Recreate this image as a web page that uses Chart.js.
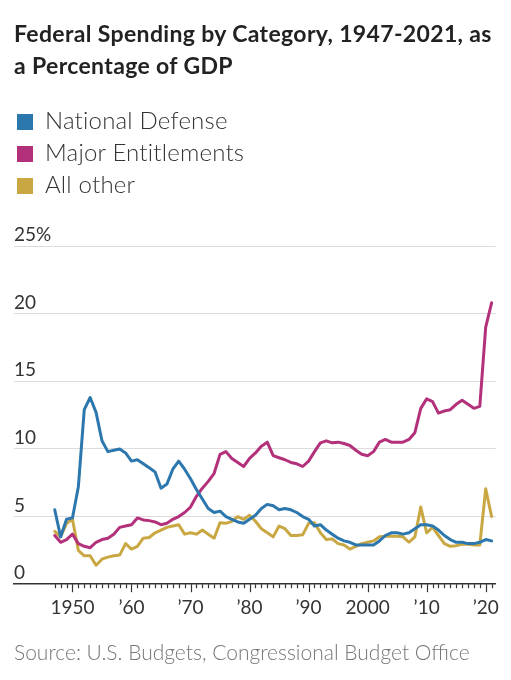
<!DOCTYPE html>
<html>
<head>
<meta charset="utf-8">
<script src="https://cdn.jsdelivr.net/npm/chart.js@4.4.1/dist/chart.umd.min.js"></script>
<style>
  body { margin: 0; background: #fff; width: 511px; height: 680px; overflow: hidden; font-family: Lato, "Noto Sans", sans-serif; }
  #wrap { position: relative; width: 511px; height: 680px; }
  #chart { position: absolute; left: 0; top: 0; }
  #title { position: absolute; left: 14px; top: 17px; font-size: 23px; letter-spacing: 0.35px; font-weight: 700; line-height: 32px; color: #222; }
  #legend { position: absolute; left: 17px; top: 104px; }
  .item { height: 32px; line-height: 32px; font-size: 24px; letter-spacing: 0.2px; font-weight: 300; color: #333; white-space: nowrap; }
  .sw { display: inline-block; width: 16px; height: 16px; margin-right: 12px; vertical-align: -1px; }
  #source { position: absolute; left: 14px; top: 640px; font-size: 21px; font-weight: 300; color: #777; line-height: 24px; }
</style>
</head>
<body>
<div id="wrap">
  <canvas id="chart" width="511" height="680"></canvas>
  <div id="title">Federal Spending by Category, 1947-2021, as<br>a Percentage of GDP</div>
  <div id="legend"></div>
  <div id="source">Source: U.S. Budgets, Congressional Budget Office</div>
</div>
<script>
// fiscal years
const years = [1947, 1948, 1949, 1950, 1951, 1952, 1953, 1954, 1955, 1956,
  1957, 1958, 1959, 1960, 1961, 1962, 1963, 1964, 1965, 1966,
  1967, 1968, 1969, 1970, 1971, 1972, 1973, 1974, 1975, 1976,
  1977, 1978, 1979, 1980, 1981, 1982, 1983, 1984, 1985, 1986,
  1987, 1988, 1989, 1990, 1991, 1992, 1993, 1994, 1995, 1996,
  1997, 1998, 1999, 2000, 2001, 2002, 2003, 2004, 2005, 2006,
  2007, 2008, 2009, 2010, 2011, 2012, 2013, 2014, 2015, 2016,
  2017, 2018, 2019, 2020, 2021];

// % of GDP
const defense = [5.5, 3.5, 4.8, 4.9, 7.2, 12.9, 13.8, 12.7, 10.6, 9.8,
  9.9, 10.0, 9.7, 9.1, 9.2, 8.9, 8.6, 8.3, 7.1, 7.4,
  8.5, 9.1, 8.5, 7.8, 7.0, 6.3, 5.6, 5.3, 5.4, 5.0,
  4.8, 4.6, 4.5, 4.8, 5.1, 5.6, 5.9, 5.8, 5.5, 5.6,
  5.5, 5.3, 5.0, 4.8, 4.3, 4.4, 4.0, 3.7, 3.4, 3.2,
  3.1, 2.9, 2.9, 2.9, 2.9, 3.2, 3.6, 3.8, 3.8, 3.7,
  3.8, 4.1, 4.4, 4.4, 4.3, 4.0, 3.6, 3.3, 3.1, 3.1,
  3.0, 3.0, 3.1, 3.3, 3.2];
const entitlements = [3.6, 3.1, 3.3, 3.7, 3.0, 2.8, 2.7, 3.1, 3.3, 3.4,
  3.7, 4.2, 4.3, 4.4, 4.9, 4.75, 4.7, 4.6, 4.4, 4.5,
  4.8, 5.0, 5.3, 5.7, 6.5, 7.1, 7.6, 8.2, 9.6, 9.8,
  9.3, 9.0, 8.7, 9.3, 9.7, 10.2, 10.5, 9.5, 9.35, 9.2,
  9.0, 8.9, 8.7, 9.1, 9.8, 10.45, 10.6, 10.45, 10.5, 10.4,
  10.25, 9.9, 9.6, 9.5, 9.8, 10.5, 10.7, 10.5, 10.5, 10.5,
  10.7, 11.2, 13.0, 13.7, 13.5, 12.65, 12.8, 12.9, 13.3, 13.6,
  13.3, 13.0, 13.15, 19.0, 20.8];
const allOther = [3.9, 3.5, 4.5, 4.8, 2.5, 2.1, 2.1, 1.4, 1.85, 2.0,
  2.1, 2.15, 3.0, 2.6, 2.8, 3.4, 3.45, 3.8, 4.0, 4.2,
  4.3, 4.4, 3.7, 3.8, 3.7, 4.0, 3.7, 3.4, 4.55, 4.5,
  4.65, 5.0, 4.8, 5.1, 4.65, 4.1, 3.8, 3.5, 4.3, 4.1,
  3.6, 3.6, 3.65, 4.5, 4.55, 3.8, 3.3, 3.35, 3.0, 2.9,
  2.6, 2.8, 3.0, 3.1, 3.2, 3.5, 3.55, 3.55, 3.55, 3.5,
  3.1, 3.5, 5.7, 3.8, 4.2, 3.6, 3.0, 2.8, 2.85, 2.95,
  2.95, 2.9, 2.9, 7.05, 5.0];

const seriesNames = ['National Defense', 'Major Entitlements', 'All other'];
const seriesColors = ['#2c77ad', '#b3317b', '#c9a843'];

const xTickYears = [1950, 1960, 1970, 1980, 1990, 2000, 2010, 2020];
const xTickLabels = ['1950', '\u201960', '\u201970', '\u201980', '\u201990', '2000', '\u201910', '\u201920'];
const yTicks = [0, 5, 10, 15, 20, 25];

const toPoints = vals => vals.map((v, i) => ({ x: years[i], y: v }));

// little tick marks under the axis, one per year, longer on decades
const yearTicks = {
  id: 'yearTicks',
  afterDraw(chart) {
    const c = chart.ctx, xs = chart.scales.x, base = chart.chartArea.bottom;
    c.save();
    c.strokeStyle = '#333';
    c.lineWidth = 1.2;
    years.forEach(yr => {
      const px = Math.round(xs.getPixelForValue(yr)) + 0.5;
      const len = yr % 10 === 0 ? 8 : 4;
      c.beginPath();
      c.moveTo(px, base);
      c.lineTo(px, base + len);
      c.stroke();
    });
    c.restore();
  }
};

const chart = new Chart(document.getElementById('chart'), {
  type: 'line',
  data: {
    datasets: [defense, entitlements, allOther].map((vals, i) => ({
      label: seriesNames[i],
      data: toPoints(vals),
      borderColor: seriesColors[i],
      backgroundColor: seriesColors[i],
      borderWidth: 3,
      pointRadius: 0,
      tension: 0,
      borderJoinStyle: 'round',
      borderCapStyle: 'round'
    }))
  },
  options: {
    responsive: false,
    animation: false,
    layout: { padding: { top: 246, left: 14, right: 12, bottom: 49 } },
    plugins: { legend: { display: false }, tooltip: { enabled: false } },
    scales: {
      x: {
        type: 'linear',
        min: 1940.1,
        max: 2021.7,
        afterBuildTicks: s => { s.ticks = xTickYears.map(v => ({ value: v })); },
        grid: { display: false, drawTicks: false },
        border: { display: true, color: '#333', width: 1.5 },
        ticks: {
          padding: 12,
          color: '#333',
          font: { family: 'Lato', size: 19 },
          maxRotation: 0,
          autoSkip: false,
          callback: v => xTickLabels[xTickYears.indexOf(v)]
        }
      },
      y: {
        min: 0,
        max: 25,
        afterBuildTicks: s => { s.ticks = yTicks.map(v => ({ value: v })); },
        grid: {
          drawTicks: false,
          color: ctx => (ctx.tick && ctx.tick.value === 0) ? 'rgba(0,0,0,0)' : '#dcdcdc',
          lineWidth: 1
        },
        border: { display: false },
        ticks: {
          mirror: true,
          padding: 0,
          labelOffset: -11,
          color: '#333',
          font: { family: 'Lato', size: 19 },
          callback: v => v === 25 ? '25%' : String(v)
        }
      }
    }
  },
  plugins: [yearTicks]
});

// legend rows from the chart's datasets
document.getElementById('legend').innerHTML = chart.data.datasets.map(ds =>
  '<div class="item"><span class="sw" style="background:' + ds.borderColor + '"></span>' + ds.label + '</div>'
).join('');
</script>
</body>
</html>
